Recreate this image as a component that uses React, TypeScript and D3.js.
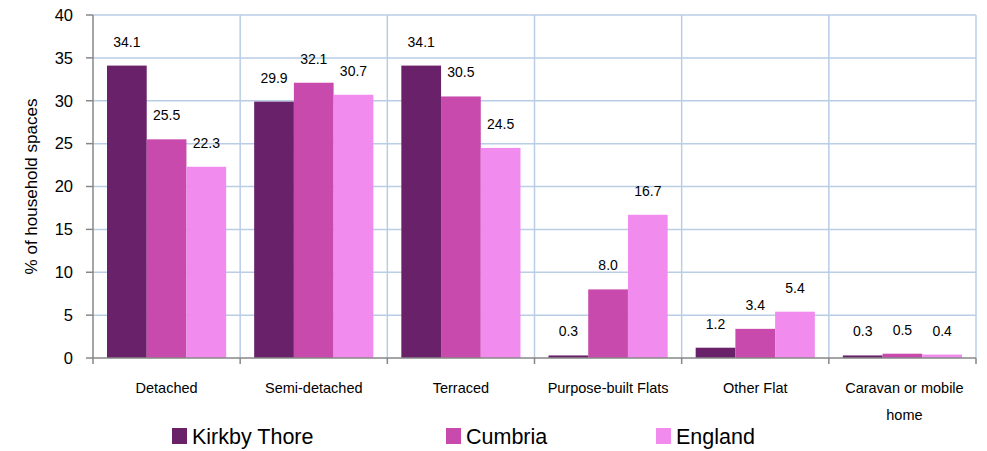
import React from "react";
import * as d3 from "d3";

const categories = ["Detached", "Semi-detached", "Terraced", "Purpose-built Flats", "Other Flat", "Caravan or mobile home"];
const categoryLines = [["Detached"], ["Semi-detached"], ["Terraced"], ["Purpose-built Flats"], ["Other Flat"], ["Caravan or mobile", "home"]];
const seriesNames = ["Kirkby Thore", "Cumbria", "England"];
const kirkbyThore = [34.1, 29.9, 34.1, 0.3, 1.2, 0.3];
const cumbria = [25.5, 32.1, 30.5, 8.0, 3.4, 0.5];
const england = [22.3, 30.7, 24.5, 16.7, 5.4, 0.4];
const yTicks = [0, 5, 10, 15, 20, 25, 30, 35, 40];
const colors = ["#69226a", "#c84aad", "#f18cee"];

const W = 987;
const H = 451;
const M = { left: 93, right: 976, top: 15, bottom: 358 };
const FONT = "'Liberation Sans', Arial, sans-serif";

export default function App() {
  const series = [kirkbyThore, cumbria, england];
  const x0 = d3.scaleBand<string>().domain(categories).range([M.left, M.right]).paddingInner(0).paddingOuter(0);
  const bw = x0.bandwidth();
  const x1 = d3.scaleBand<string>().domain(seriesNames).range([14, bw - 14]).paddingInner(0).paddingOuter(0);
  const y = d3.scaleLinear().domain([0, 40]).range([M.bottom, M.top]);
  const grid = "#b9cde5";
  const axis = "#878787";
  const legendX = [172, 446, 656];

  return (
    <div style={{ position: "absolute", left: 0, top: 0 }}>
      <svg width={W} height={H} style={{ display: "block", background: "#fff" }}>
        {yTicks.filter((t) => t > 0).map((t) => (
          <line key={"h" + t} x1={M.left} x2={M.right} y1={y(t)} y2={y(t)} stroke={grid} strokeWidth={1.5} />
        ))}
        {categories.map((c) => (
          <line key={"v" + c} x1={(x0(c) as number) + bw} x2={(x0(c) as number) + bw} y1={M.top} y2={M.bottom} stroke={grid} strokeWidth={1.5} />
        ))}
        {categories.map((c, i) => (
          <g key={"g" + c}>
            {seriesNames.map((s, j) => {
              const v = series[j][i];
              const bx = (x0(c) as number) + (x1(s) as number);
              return (
                <g key={s}>
                  <rect x={bx} y={y(v)} width={x1.bandwidth()} height={y(0) - y(v)} fill={colors[j]} />
                  <text x={bx + x1.bandwidth() / 2} y={y(v) - 19} textAnchor="middle" fontFamily={FONT} fontSize={14} fill="#000">
                    {v.toFixed(1)}
                  </text>
                </g>
              );
            })}
          </g>
        ))}
        <line x1={M.left} x2={M.left} y1={M.top} y2={M.bottom} stroke={axis} strokeWidth={1.5} />
        <line x1={M.left} x2={M.right} y1={M.bottom} y2={M.bottom} stroke={axis} strokeWidth={1.5} />
        {yTicks.map((t) => (
          <g key={"t" + t}>
            <line x1={M.left - 7} x2={M.left} y1={y(t)} y2={y(t)} stroke={axis} strokeWidth={1.5} />
            <text x={M.left - 20} y={y(t)} dy="0.35em" textAnchor="end" fontFamily={FONT} fontSize={16.5} fill="#000">
              {t}
            </text>
          </g>
        ))}
        {[M.left, ...categories.map((c) => (x0(c) as number) + bw)].map((xx, i) => (
          <line key={"xt" + i} x1={xx} x2={xx} y1={M.bottom} y2={M.bottom + 6} stroke={axis} strokeWidth={1.5} />
        ))}
        {categories.map((c, i) => (
          <text key={"cl" + c} textAnchor="middle" fontFamily={FONT} fontSize={14.5} fill="#000">
            {categoryLines[i].map((line, k) => (
              <tspan key={k} x={(x0(c) as number) + bw / 2 + (categoryLines[i].length > 1 ? 2 : 0)} y={393 + k * 27}>
                {line}
              </tspan>
            ))}
          </text>
        ))}
        <text transform={`translate(37, ${(M.top + M.bottom) / 2}) rotate(-90)`} textAnchor="middle" fontFamily={FONT} fontSize={17} fill="#000">
          % of household spaces
        </text>
        {seriesNames.map((s, j) => (
          <g key={"lg" + s}>
            <rect x={legendX[j]} y={428} width={15} height={16} fill={colors[j]} />
            <text x={legendX[j] + 20} y={444} fontFamily={FONT} fontSize={21.5} fill="#000">
              {s}
            </text>
          </g>
        ))}
      </svg>
    </div>
  );
}
